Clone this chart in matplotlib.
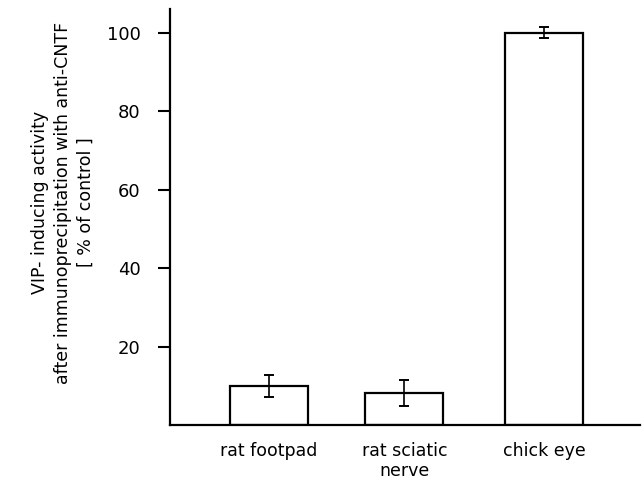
import matplotlib
matplotlib.use('Agg')
from matplotlib import pyplot as plt

# values
labels = ['rat footpad', 'rat sciatic\nnerve', 'chick eye']
positions = [0, 0.99, 2.01]
activity = [10, 8.2, 100]
errors = [2.8, 3.4, 1.4]
yticks = [20, 40, 60, 80, 100]

plt.rcParams['font.family'] = ['DejaVu Sans']

fig = plt.figure(figsize=(6.44, 4.82), dpi=100)
ax = fig.add_axes([0.264, 0.118, 0.730, 0.863])

ax.bar(positions, activity, width=0.57, color='white', edgecolor='black', linewidth=1.6, zorder=2)
ax.errorbar(positions, activity, yerr=errors, fmt='none', ecolor='black',
            elinewidth=1.2, capsize=3.5, capthick=1.4, zorder=3)

ax.set_xlim(-0.72, 2.71)
ax.set_ylim(0, 106)
ax.set_yticks(yticks)
ax.set_xticks(positions)
ax.set_xticklabels(labels, fontsize=12.5, linespacing=1.15)
ax.tick_params(axis='x', length=0, pad=12)
ax.tick_params(axis='y', direction='out', length=9, width=1.5, pad=12, labelsize=13)

for side in ['top', 'right']:
    ax.spines[side].set_visible(False)
for side in ['left', 'bottom']:
    ax.spines[side].set_linewidth(1.6)

fig.text(0.098, 0.58, 'VIP- inducing activity\nafter immunoprecipitation with anti-CNTF\n[ % of control ]',
         rotation=90, ha='center', va='center', fontsize=12.5, linespacing=1.35,
         multialignment='center')

fig.savefig('out.png', dpi=100)
